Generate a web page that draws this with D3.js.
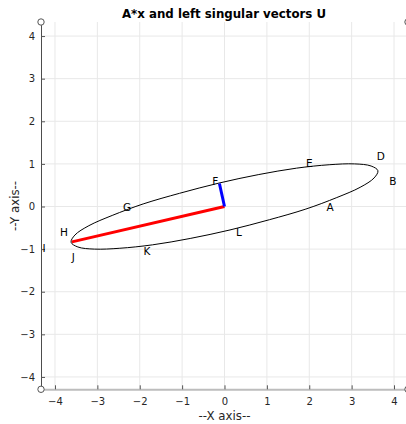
<!DOCTYPE html>
<html>
<head>
<meta charset="utf-8">
<script src="https://cdn.jsdelivr.net/npm/d3@7"></script>
<style>
  body { margin: 0; background: #fff; }
  text { font-family: "DejaVu Sans", sans-serif; }
</style>
</head>
<body>
<div id="d3-container"></div>
<script>
/* CONSTANTS AND GLOBALS */
const width = 406,
  height = 424;

// tick values on both axes
const xTicks = [-4, -3, -2, -1, 0, 1, 2, 3, 4];
const yTicks = [-4, -3, -2, -1, 0, 1, 2, 3, 4];

// points of the ellipse A*x
const ellipseX = [3.62, 3.46, 3.07, 2.47, 1.70, 0.81, -0.13, -1.06, -1.92, -2.65, -3.20, -3.53,
  -3.62, -3.46, -3.07, -2.47, -1.70, -0.81, 0.13, 1.06, 1.92, 2.65, 3.20, 3.53];
const ellipseY = [0.84, 0.95, 1.00, 0.98, 0.90, 0.75, 0.55, 0.31, 0.06, -0.21, -0.45, -0.67,
  -0.84, -0.95, -1.00, -0.98, -0.90, -0.75, -0.55, -0.31, -0.06, 0.21, 0.45, 0.67];

// left singular vectors scaled by sigma
const vecNames = ["u1", "u2"];
const vecX = [-3.60, -0.12];
const vecY = [-0.83, 0.54];
const vecColors = ["#ff0000", "#0000ff"];

// point labels
const labelText = ["A", "B", "D", "E", "F", "G", "H", "I", "J", "K", "L"];
const labelX = [2.49, 3.97, 3.69, 2.00, -0.22, -2.30, -3.79, -4.26, -3.57, -1.83, 0.34];
const labelY = [-0.01, 0.59, 1.19, 1.02, 0.60, -0.01, -0.61, -0.98, -1.20, -1.04, -0.60];

/* SCALES */
const xScale = d3.scaleLinear().domain([-4.33, 4.33]).range([41, 408]);
const yScale = d3.scaleLinear().domain([-4.29, 4.33]).range([389.3, 22]);

const svg = d3.select("#d3-container")
  .append("svg")
  .attr("width", width)
  .attr("height", height);

// grid
svg.append("g").selectAll("line")
  .data(xTicks)
  .join("line")
  .attr("x1", d => xScale(d)).attr("x2", d => xScale(d))
  .attr("y1", yScale.range()[0]).attr("y2", yScale.range()[1])
  .attr("stroke", "#e8e8e8");

svg.append("g").selectAll("line")
  .data(yTicks)
  .join("line")
  .attr("x1", xScale.range()[0]).attr("x2", xScale.range()[1])
  .attr("y1", d => yScale(d)).attr("y2", d => yScale(d))
  .attr("stroke", "#e8e8e8");

// AXES
const xAxis = d3.axisBottom(xScale).tickValues(xTicks).tickSizeInner(-4).tickSizeOuter(0).tickPadding(9);
const yAxis = d3.axisLeft(yScale).tickValues(yTicks).tickSizeInner(-4).tickSizeOuter(0).tickPadding(6);

const gx = svg.append("g")
  .attr("transform", `translate(0, ${yScale.range()[0]})`)
  .call(xAxis);
gx.select(".domain").attr("stroke", "#bdbdbd").attr("stroke-width", 2);
gx.selectAll(".tick line").attr("stroke", "#555");
gx.selectAll("text").attr("fill", "#262626").style("font-size", "10px")
  .style("font-family", "DejaVu Sans, sans-serif");

const gy = svg.append("g")
  .attr("transform", `translate(${xScale.range()[0]}, 0)`)
  .call(yAxis);
gy.select(".domain").attr("stroke", "#4d4d4d");
gy.selectAll(".tick line").attr("stroke", "#555");
gy.selectAll("text").attr("fill", "#262626").style("font-size", "10px")
  .style("font-family", "DejaVu Sans, sans-serif");

// corner circles
const corners = [[0, 0], [1, 0], [0, 1], [1, 1]];
svg.append("g").selectAll("circle")
  .data(corners)
  .join("circle")
  .attr("cx", d => xScale.range()[d[0]])
  .attr("cy", d => yScale.range()[d[1]])
  .attr("r", 3.2)
  .attr("fill", "#fff")
  .attr("stroke", "#555");

// ellipse
const line = d3.line()
  .x(i => xScale(ellipseX[i]))
  .y(i => yScale(ellipseY[i]))
  .curve(d3.curveCatmullRomClosed);

svg.append("path")
  .attr("d", line(d3.range(ellipseX.length)))
  .attr("fill", "none")
  .attr("stroke", "#000")
  .attr("stroke-width", 1);

// vectors
svg.append("g").selectAll("line")
  .data(vecNames)
  .join("line")
  .attr("x1", xScale(0)).attr("y1", yScale(0))
  .attr("x2", (d, i) => xScale(vecX[i]))
  .attr("y2", (d, i) => yScale(vecY[i]))
  .attr("stroke", (d, i) => vecColors[i])
  .attr("stroke-width", 3);

// labels
svg.append("g").selectAll("text")
  .data(labelText)
  .join("text")
  .attr("x", (d, i) => xScale(labelX[i]))
  .attr("y", (d, i) => yScale(labelY[i]))
  .attr("text-anchor", "middle")
  .attr("dy", "0.36em")
  .style("font-size", "10.5px")
  .attr("fill", "#000")
  .text(d => d);

// title and axis labels
svg.append("text")
  .attr("x", 224).attr("y", 17.8)
  .attr("text-anchor", "middle")
  .style("font-size", "11.8px").style("font-weight", "bold")
  .text("A*x and left singular vectors U");

svg.append("text")
  .attr("x", 224.5).attr("y", 419.5)
  .attr("text-anchor", "middle")
  .style("font-size", "11.8px").attr("fill", "#262626")
  .text("--X axis--");

svg.append("text")
  .attr("transform", "translate(19, 206) rotate(-90)")
  .attr("text-anchor", "middle")
  .style("font-size", "11.8px").attr("fill", "#262626")
  .text("--Y axis--");
</script>
</body>
</html>
